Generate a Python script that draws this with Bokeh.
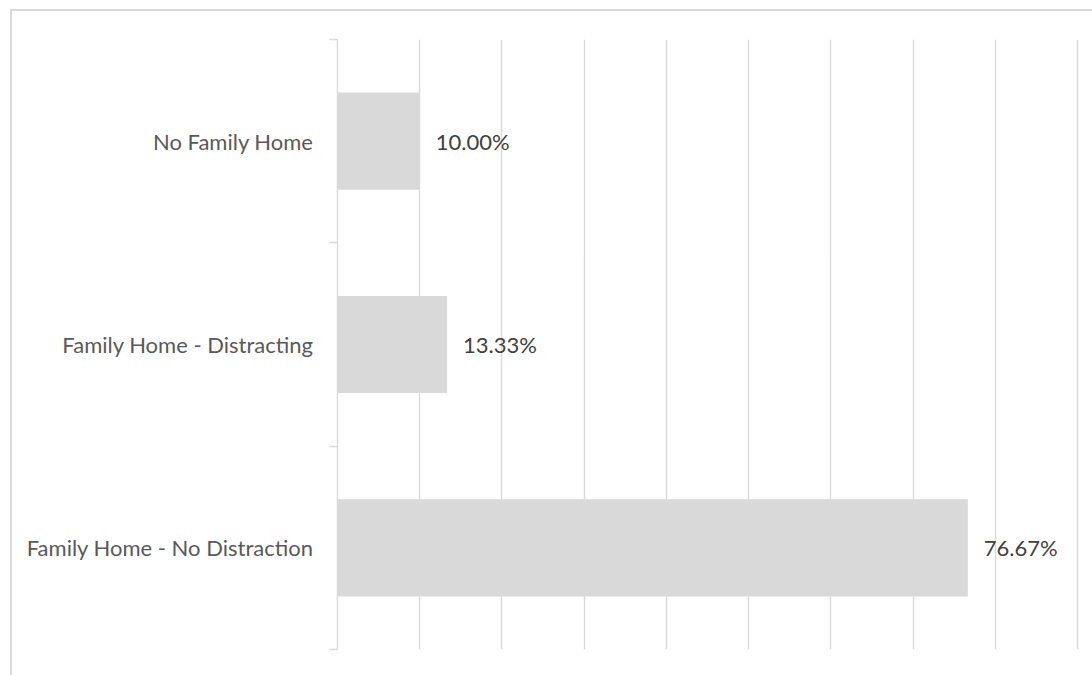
from bokeh.plotting import figure
from bokeh.models import Range1d, FixedTicker, ColumnDataSource, InlineStyleSheet
from bokeh.core.properties import value
from bokeh.embed import file_html
from bokeh.resources import INLINE

categories = ["Family Home - No Distraction", "Family Home - Distracting", "No Family Home"]
values = [76.67, 13.33, 10.00]
value_labels = ["76.67%", "13.33%", "10.00%"]
x_ticks = [0, 10, 20, 30, 40, 50, 60, 70, 80, 90]

ys = [i + 0.5 for i in range(len(categories))]
src = ColumnDataSource(dict(y=ys, v=values, lab=value_labels, cat=categories))

FONT = "Lato"
GRID = "#d9d9d9"

p = figure(width=1092, height=675, output_backend="svg", toolbar_location=None,
           x_range=Range1d(x_ticks[0], x_ticks[-1] + 0.25), y_range=Range1d(0, len(categories)),
           min_border_left=337, min_border_right=13, min_border_top=39, min_border_bottom=26)
p.outline_line_color = None
p.background_fill_color = "white"
p.border_fill_color = "white"

p.xaxis.visible = False
p.xgrid.ticker = FixedTicker(ticks=x_ticks)
p.xgrid.grid_line_color = GRID
p.xgrid.grid_line_width = 1.4
p.ygrid.visible = False

ax = p.yaxis[0]
ax.ticker = FixedTicker(ticks=ys, minor_ticks=list(range(len(categories) + 1)))
ax.major_label_overrides = {y: c for y, c in zip(ys, categories)}
ax.axis_line_color = GRID
ax.axis_line_width = 1.4
ax.major_tick_out = 0
ax.major_tick_in = 0
ax.minor_tick_out = 8
ax.minor_tick_in = 0
ax.minor_tick_line_color = GRID
ax.minor_tick_line_width = 1.4
ax.major_label_standoff = 16
ax.major_label_text_font = FONT
ax.major_label_text_font_size = "22px"
ax.major_label_text_color = "#595959"

p.hbar(y="y", left=0, right="v", height=0.478, source=src, fill_color="#d9d9d9", line_color=None)
p.text(x="v", y="y", text="lab", source=src, x_offset=16, text_baseline="middle",
       text_font=value(FONT), text_font_size="22px", text_color="#404040")

p.stylesheets = [InlineStyleSheet(css=(
    ":host::after { content: ''; position: absolute; left: 10px; top: 9px; right: 0; bottom: 0; "
    "border-left: 2px solid #d9d9d9; border-top: 2px solid #d9d9d9; pointer-events: none; z-index: 10; }"
))]

open("out.html", "w").write(file_html(p, INLINE))
